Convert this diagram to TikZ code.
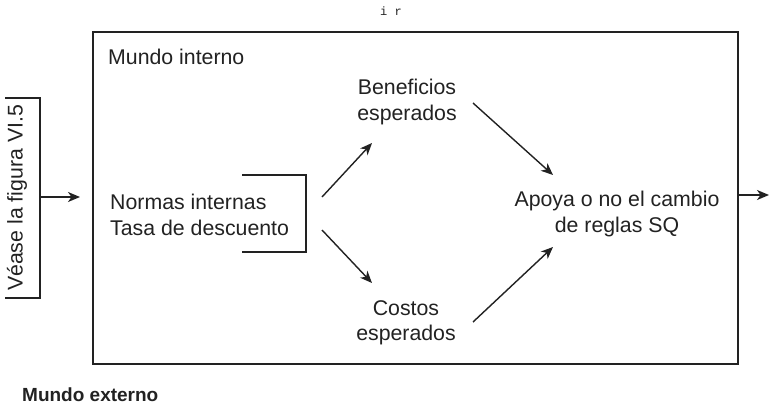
\documentclass[tikz,border=0pt]{standalone}
\usepackage{fontspec}
\setmainfont{Liberation Sans}
\newfontfamily\monofnt{Liberation Mono}
\usetikzlibrary{arrows.meta}
\definecolor{ink}{HTML}{222222}
\tikzset{
  lbl/.style={inner sep=0pt, text=ink, font=\fontsize{21.3}{25.5}\selectfont},
  arr/.style={draw=ink, line width=1.4pt, -{Stealth[length=12pt,width=10pt,inset=3.5pt]}},
  ln/.style={draw=ink, line width=1.5pt},
}
\begin{document}
\begin{tikzpicture}[x=1pt,y=-1pt]
\useasboundingbox (0,0) rectangle (770,405);
\fill[white] (0,0) rectangle (770,405);
% top stray text
\node[inner sep=0pt, text=ink, font=\monofnt\fontsize{12}{14}\selectfont] (ir) at (391,11) {i r};
% main box
\node[ln, draw, minimum width=645pt, minimum height=332pt, inner sep=0pt, anchor=north west] (box) at (92,31) {};
\node[lbl, anchor=west] (interno) at (108,57) {Mundo interno};
% left bracket and rotated label
\coordinate (bt) at (40,98);
\coordinate (bb) at (40,298);
\coordinate (bm) at (40,197);
\coordinate (ba) at (80,197);
\draw[ln] (5,98) -- (bt) -- (bb) -- (5,298);
\node[lbl, rotate=90] (vease) at (17,198) {Véase la figura VI.5};
\draw[arr] (bm) -- (ba);
% normas
\node[lbl, anchor=west, align=left] (normas) at (110,215) {Normas internas\\Tasa de descuento};
\coordinate (nt) at (306,175);
\coordinate (nb) at (306,252);
\draw[ln] (242,175) -- (nt) -- (nb) -- (242,252);
% middle nodes
\node[lbl, align=center] (ben) at (407,102) {Beneficios\\esperados};
\node[lbl, align=center] (cos) at (406,323) {Costos\\esperados};
\node[lbl, align=center] (apoya) at (617,214) {Apoya o no el cambio\\de reglas SQ};
\node[lbl, anchor=west, font=\bfseries\fontsize{19}{23}\selectfont] (externo) at (22,395) {Mundo externo};
% arrows
\coordinate (n1) at (322,197);
\coordinate (n2) at (322,230);
\coordinate (b1) at (372,143);
\coordinate (c1) at (372,283);
\draw[arr] (n1) -- (b1);
\draw[arr] (n2) -- (c1);
\coordinate (b2) at (473,103);
\coordinate (a1) at (553,175);
\coordinate (c2) at (473,322);
\coordinate (a2) at (553,247);
\draw[arr] (b2) -- (a1);
\draw[arr] (c2) -- (a2);
\coordinate (out) at (769,195);
\draw[arr] (box.east |- out) -- (out);
\end{tikzpicture}
\end{document}
